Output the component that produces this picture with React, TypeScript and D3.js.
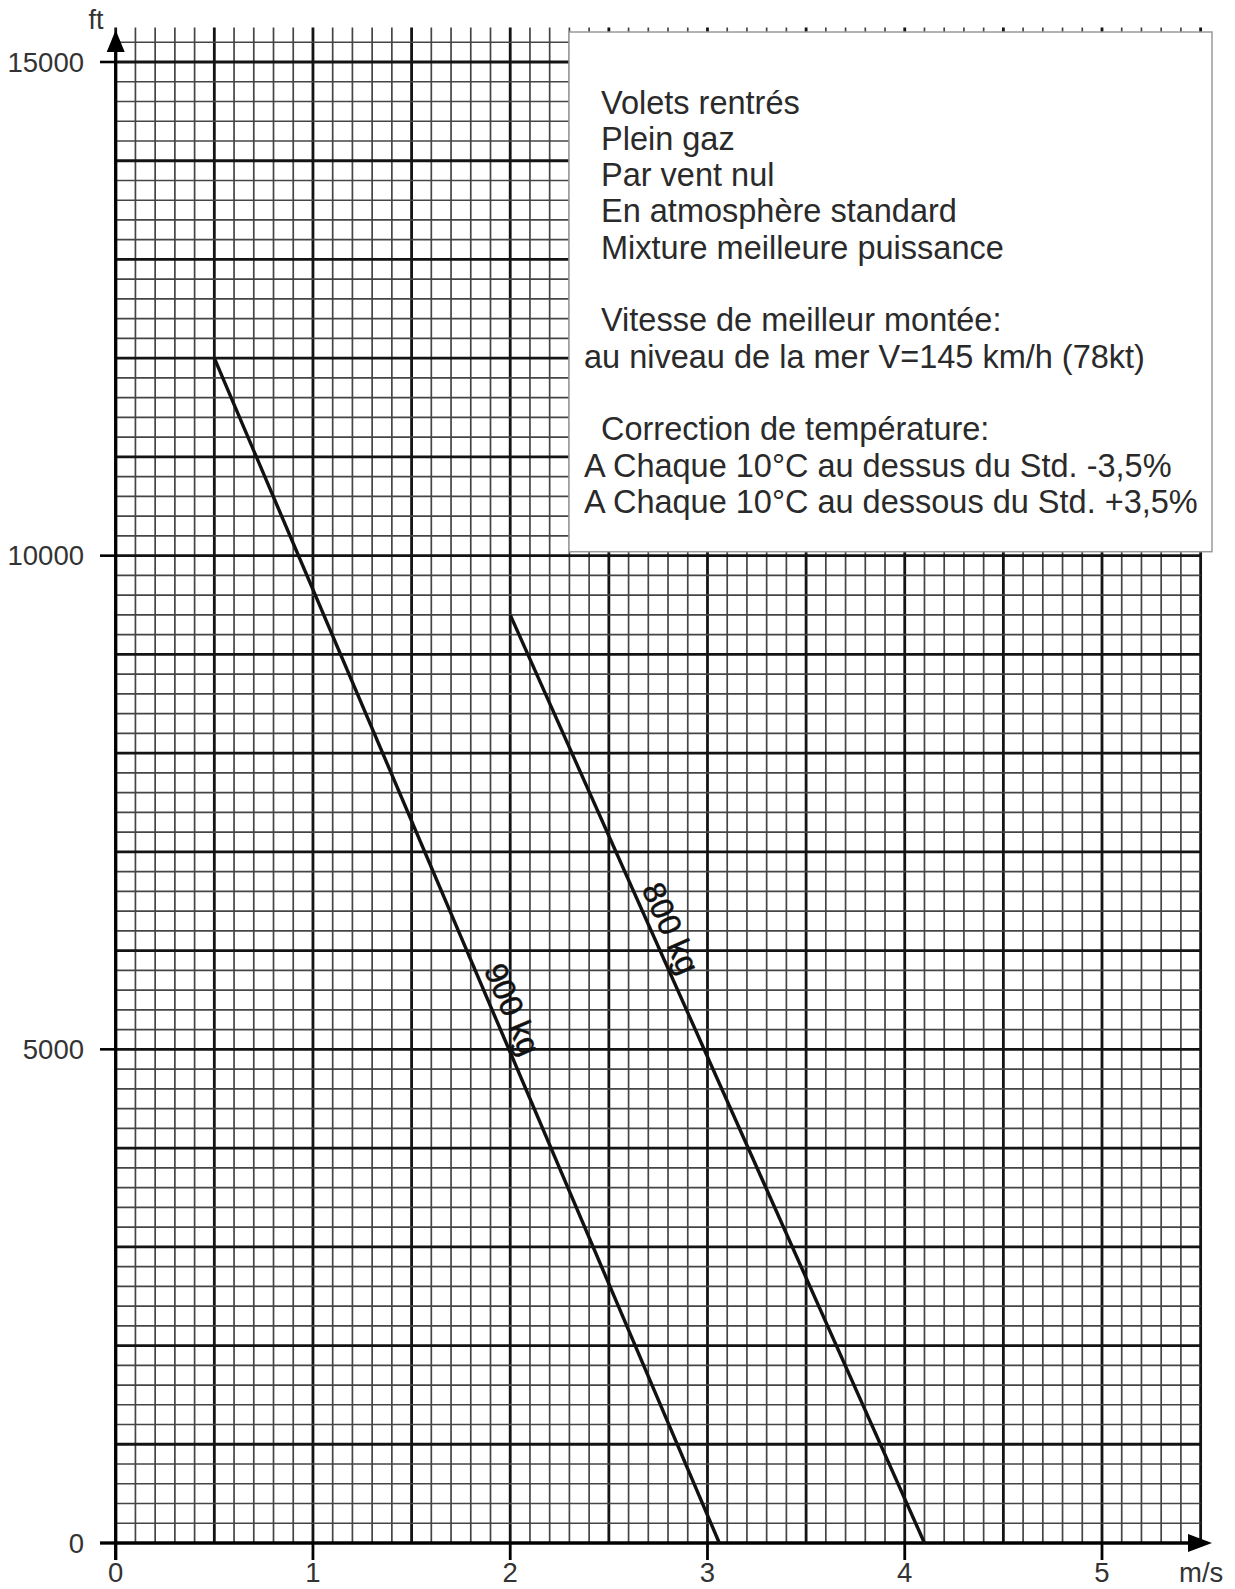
import * as React from "react"
import * as d3 from "d3"

// rate of climb chart (m/s vs altitude ft)
const xTicks = [0, 1, 2, 3, 4, 5]
const yTicks = [0, 5000, 10000, 15000]
const weights = ["900 kg", "800 kg"]
const climbV = [[0.5, 3.06], [2.0, 4.1]]
const climbAlt = [[12000, 0], [9400, 0]]
const labelAlt = [5330, 6150]
const notes = [
    "Volets rentrés",
    "Plein gaz",
    "Par vent nul",
    "En atmosphère standard",
    "Mixture meilleure puissance",
    "",
    "Vitesse de meilleur montée:",
    "au niveau de la mer V=145 km/h (78kt)",
    "",
    "Correction de température:",
    "A Chaque 10°C au dessus du Std. -3,5%",
    "A Chaque 10°C au dessous du Std. +3,5%",
]
const noteIndent = [true, true, true, true, true, false, true, false, false, true, false, false]

const App = () => {
    const [w, h] = [1235, 1589]
    const font = "'Liberation Sans', Arial, sans-serif"

    const xScale = d3.scaleLinear().domain([0, 5]).range([115.7, 1102])
    const yScale = d3.scaleLinear().domain([0, 15000]).range([1543, 62])

    const xMax = 5.5
    const yGridMax = 15200
    const yTop = 15350

    const vLines = d3.range(0, 56).map(i => {
        const v = i / 10
        const major = i % 5 === 0
        return (
            <line key={"v" + i}
                x1={xScale(v)} x2={xScale(v)}
                y1={yScale(0)} y2={yScale(yTop)}
                stroke={major ? "#141414" : "#454545"}
                strokeWidth={major ? 2.8 : 1.7}
            />
        )
    })

    const hLines = d3.range(0, yGridMax / 200 + 1).map(i => {
        const a = i * 200
        const major = i % 5 === 0
        return (
            <line key={"h" + i}
                x1={xScale(0)} x2={xScale(xMax)}
                y1={yScale(a)} y2={yScale(a)}
                stroke={major ? "#141414" : "#454545"}
                strokeWidth={major ? 2.8 : 1.7}
            />
        )
    })

    const lineGen = d3.line<[number, number]>()
        .x(d => xScale(d[0]))
        .y(d => yScale(d[1]))

    const curves = weights.map((name, i) => {
        const pts: [number, number][] = climbV[i].map((v, j) => [v, climbAlt[i][j]])
        const [x0, y0] = [xScale(pts[0][0]), yScale(pts[0][1])]
        const [x1, y1] = [xScale(pts[1][0]), yScale(pts[1][1])]
        const ang = Math.atan2(y1 - y0, x1 - x0)
        // point on the line at label altitude
        const t = (climbAlt[i][0] - labelAlt[i]) / (climbAlt[i][0] - climbAlt[i][1])
        const px = x0 + (x1 - x0) * t
        const py = y0 + (y1 - y0) * t
        const off = 19
        const lx = px + Math.sin(ang) * off
        const ly = py - Math.cos(ang) * off
        return (
            <g key={name}>
                <path d={lineGen(pts) ?? ""} fill="none" stroke="#111" strokeWidth={3.4} />
                <text
                    x={lx} y={ly}
                    transform={`rotate(${(ang * 180) / Math.PI},${lx},${ly})`}
                    fontSize={32}
                    fontFamily={font}
                    textAnchor="middle"
                    dominantBaseline="central"
                    fill="#111"
                    stroke="#111"
                    strokeWidth={0.5}
                >
                    {name}
                </text>
            </g>
        )
    })

    const box = { x: 569, y: 32, x2: 1212, y2: 551.7 }

    return (
        <div style={{ position: "absolute", left: 0, top: 0 }}>
            <svg width={w} height={h} style={{ display: "block", background: "#fff" }}>
                {vLines}
                {hLines}

                {/* axes */}
                <line x1={xScale(0)} x2={xScale(0)} y1={yScale(0) + 17} y2={44} stroke="#000" strokeWidth={3.2} />
                <line x1={100} x2={1195} y1={yScale(0)} y2={yScale(0)} stroke="#000" strokeWidth={3.2} />
                <path d={`M${xScale(0)},30 L${xScale(0) - 9},52 L${xScale(0) + 9},52 Z`} fill="#000" />
                <path d={`M1212,${yScale(0)} L1188,${yScale(0) - 9} L1188,${yScale(0) + 9} Z`} fill="#000" />

                {yTicks.map(t => (
                    <g key={"yt" + t}>
                        <line x1={100} x2={xScale(0)} y1={yScale(t)} y2={yScale(t)} stroke="#000" strokeWidth={2.6} />
                        <text x={84} y={yScale(t)} fontSize={27.5} fontFamily={font} textAnchor="end" dominantBaseline="central" fill="#333">{t}</text>
                    </g>
                ))}
                {xTicks.map(t => (
                    <g key={"xt" + t}>
                        <line x1={xScale(t)} x2={xScale(t)} y1={yScale(0)} y2={yScale(0) + 17} stroke="#000" strokeWidth={2.8} />
                        <text x={xScale(t)} y={1582} fontSize={27.5} fontFamily={font} textAnchor="middle" fill="#333">{t}</text>
                    </g>
                ))}
                <text x={1179} y={1582} fontSize={27.5} fontFamily={font} fill="#333">m/s</text>
                <text x={96} y={29} fontSize={27} fontFamily={font} textAnchor="middle" fill="#333">ft</text>

                {curves}

                {/* notes box */}
                <rect x={box.x} y={box.y} width={box.x2 - box.x} height={box.y2 - box.y} fill="#fff" stroke="#9a9a9a" strokeWidth={1.5} />
                {notes.map((s, i) => (
                    <text key={"n" + i}
                        x={noteIndent[i] ? 601 : 584}
                        y={113.5 + i * 36.3}
                        fontSize={32.5}
                        fontFamily={font}
                        fill="#2a2a2a"
                    >
                        {s}
                    </text>
                ))}
            </svg>
        </div>
    )
}

export default App
